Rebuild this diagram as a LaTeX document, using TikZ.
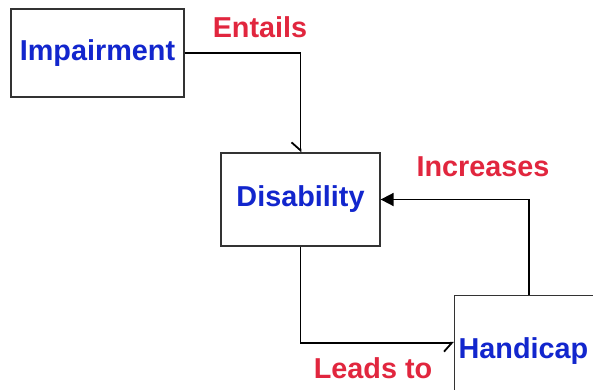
\documentclass[tikz,border=0pt]{standalone}
\usepackage{fontspec}
\setmainfont{Liberation Sans}
\usepackage{tikz}
\usetikzlibrary{arrows.meta}
\definecolor{nodeblue}{RGB}{18,38,205}
\definecolor{labelred}{RGB}{225,38,62}

\begin{document}
\begin{tikzpicture}[
  x=1pt, y=-1pt, font=\fontsize{28.8}{30}\selectfont\bfseries,
  box/.style={draw=black!80,line width=1.3pt,fill=white,text=nodeblue,inner sep=0pt},
  lbl/.style={text=labelred},
  wire/.style={line width=1.8pt},
  barb/.style={-{Straight Barb[harpoon,swap,length=8pt,width=18pt]}},
  >={Triangle[length=13pt,width=13pt]}]
\useasboundingbox (0,0) rectangle (593,389);
\clip (0,0) rectangle (593,389);
\node[box,minimum width=173pt,minimum height=88pt] (imp) at (97.5,53) {Impairment};
\node[box,minimum width=159pt,minimum height=93pt] (dis) at (300.5,199.5) {Disability};
\node[box,anchor=north west,minimum height=110pt,text width=162pt,align=left,inner xsep=4pt] (hand) at (454,295) {Handicap};
\draw[wire,barb] (imp.east) -| (dis.north);
\draw[wire,barb] (dis.south) |- ([yshift=8pt]hand.west);
\draw[wire,->] ([xshift=-11pt]hand.north) |- (dis.east);
\node[lbl] (entails) at (260,27) {Entails};
\node[lbl] (incr) at (483,167) {Increases};
\node[lbl] (leads) at (373,368) {Leads to};
\end{tikzpicture}
\end{document}
